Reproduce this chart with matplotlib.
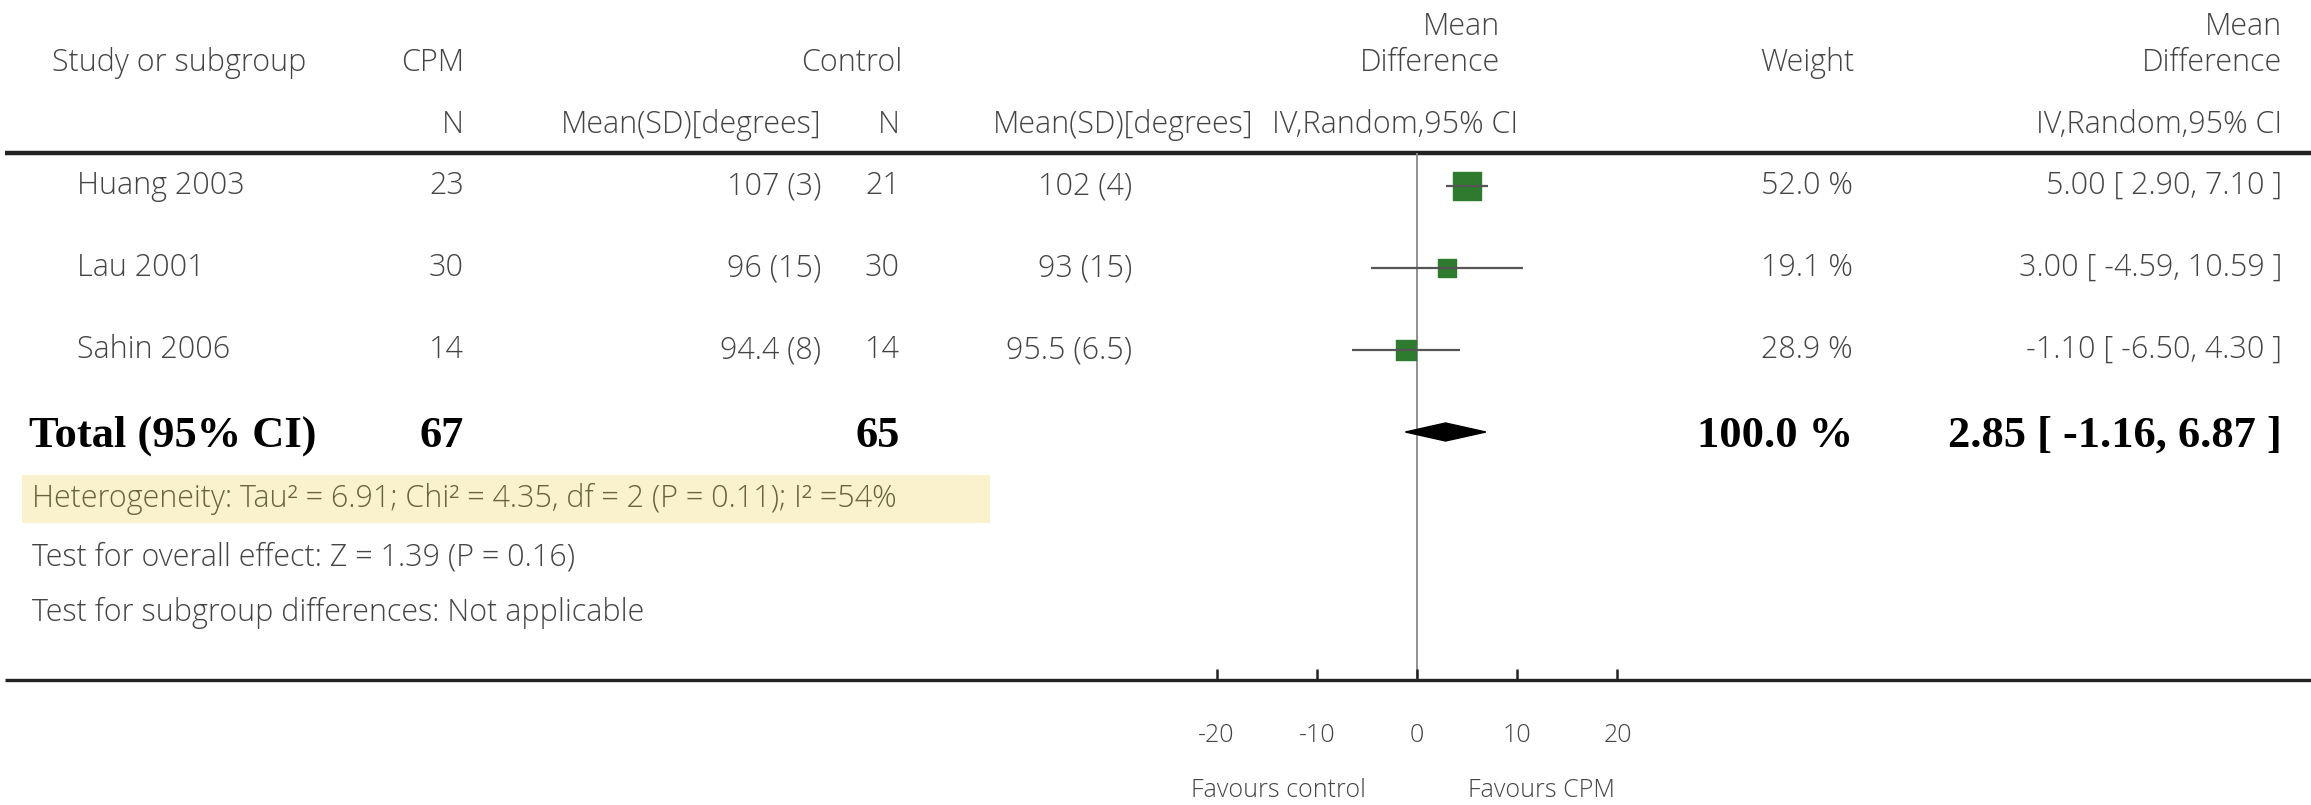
import matplotlib.pyplot as plt
from matplotlib.patches import Polygon, Rectangle

# data
studies = ['Huang 2003', 'Lau 2001', 'Sahin 2006']
cpm_n = [23, 30, 14]
cpm_mean = [107, 96, 94.4]
cpm_sd = [3, 15, 8]
ctrl_n = [21, 30, 14]
ctrl_mean = [102, 93, 95.5]
ctrl_sd = [4, 15, 6.5]
md = [5.00, 3.00, -1.10]
md_lo = [2.90, -4.59, -6.50]
md_hi = [7.10, 10.59, 4.30]
weights = [52.0, 19.1, 28.9]
total_n = [67, 65]
total_md = [2.85, -1.16, 6.87]
xticks = [-20, -10, 0, 10, 20]

W, H = 2311, 805
fig = plt.figure(figsize=(W / 100, H / 100), dpi=100)
plt.rcParams['font.family'] = ['Open Sans', 'DejaVu Sans']

# text layer in pixel coordinates
ax = fig.add_axes([0, 0, 1, 1])
ax.set_xlim(0, W)
ax.set_ylim(H, 0)
ax.axis('off')

grey = '#444444'
fs = 22
txt = dict(fontsize=fs, color=grey, va='center', fontweight='light')
rtxt = dict(txt, ha='right')

# header
ax.text(52, 63, 'Study or subgroup', **txt)
ax.text(464, 63, 'CPM', **rtxt)
ax.text(902, 63, 'Control', **rtxt)
ax.text(1500, 27, 'Mean', **rtxt)
ax.text(1500, 63, 'Difference', **rtxt)
ax.text(1854, 63, 'Weight', **rtxt)
ax.text(2282, 27, 'Mean', **rtxt)
ax.text(2282, 63, 'Difference', **rtxt)
ax.text(464, 125, 'N', **rtxt)
ax.text(821, 125, 'Mean(SD)[degrees]', **rtxt)
ax.text(900, 125, 'N', **rtxt)
ax.text(1254, 125, 'Mean(SD)[degrees]', **rtxt)
ax.text(1518, 125, 'IV,Random,95% CI', **rtxt)
ax.text(2282, 125, 'IV,Random,95% CI', **rtxt)

ax.plot([5, W], [153, 153], color='#222222', lw=3.2, solid_capstyle='butt')
ax.plot([5, W], [680, 680], color='#222222', lw=2.4, solid_capstyle='butt')

row_y = [186, 268, 350]
for i, y in enumerate(row_y):
    ax.text(77, y, studies[i], **txt)
    ax.text(464, y, str(cpm_n[i]), **rtxt)
    ax.text(821, y, f'{cpm_mean[i]:g} ({cpm_sd[i]:g})', **rtxt)
    ax.text(900, y, str(ctrl_n[i]), **rtxt)
    ax.text(1132, y, f'{ctrl_mean[i]:g} ({ctrl_sd[i]:g})', **rtxt)
    ax.text(1853, y, f'{weights[i]:.1f} %', **rtxt)
    ax.text(2282, y, f'{md[i]:.2f} [ {md_lo[i]:.2f}, {md_hi[i]:.2f} ]', **rtxt)

serif = dict(family=['Liberation Serif'], fontweight='bold', fontsize=32, color='black', va='center')
ax.text(29, 436, 'Total (95% CI)', **serif)
ax.text(464, 436, str(total_n[0]), ha='right', **serif)
ax.text(900, 436, str(total_n[1]), ha='right', **serif)
ax.text(1853, 436, f'{sum(weights):.1f} %', ha='right', **serif)
ax.text(2282, 436, f'{total_md[0]:.2f} [ {total_md[1]:.2f}, {total_md[2]:.2f} ]', ha='right', **serif)

ax.add_patch(Rectangle((22, 475), 968, 48, facecolor='#faf2cc', edgecolor='none'))
ax.text(32, 499, 'Heterogeneity: Tau² = 6.91; Chi² = 4.35, df = 2 (P = 0.11); I² =54%',
        **dict(txt, color='#67633d'))
ax.text(32, 557, 'Test for overall effect: Z = 1.39 (P = 0.16)', **txt)
ax.text(32, 613, 'Test for subgroup differences: Not applicable', **txt)

ax.text(1278, 790, 'Favours control', **dict(txt, fontsize=18, ha='center'))
ax.text(1541, 790, 'Favours CPM', **dict(txt, fontsize=18, ha='center'))

# forest axes: zero at x=1417 px, 10 units ~ 100 px
px10 = 100.2
left = 1417 - 2 * px10
fax = fig.add_axes([left / W, (H - 680) / H, 4 * px10 / W, (680 - 153) / H])
fax.patch.set_alpha(0)
pitch = 82
fax.set_xlim(-20, 20)
fax.set_ylim((680 - 186) / pitch, (153 - 186) / pitch)
for s in fax.spines.values():
    s.set_visible(False)
fax.set_yticks([])
fax.set_xticks(xticks)
fax.set_xticklabels([str(t) for t in xticks], fontweight='light')
fax.tick_params(axis='x', direction='in', length=8, width=1.8, color='#222222',
                pad=31, labelsize=18, labelcolor=grey)
fax.axvline(0, color='#888888', lw=1.3, zorder=1)

for i in range(len(studies)):
    side = 3.9 * weights[i] ** 0.5 * 0.72
    fax.scatter([md[i]], [i], marker='s', s=side ** 2, color='#2e7a2e', zorder=2, clip_on=False)
    fax.plot([md_lo[i], md_hi[i]], [i, i], color='#555555', lw=1.6, zorder=3,
             solid_capstyle='butt', clip_on=False)

dy = 0.11
fax.add_patch(Polygon([(total_md[1], 3), (total_md[0], 3 - dy), (total_md[2], 3), (total_md[0], 3 + dy)],
                      closed=True, facecolor='black', edgecolor='black', zorder=3))

fig.savefig('out.png', dpi=100)
